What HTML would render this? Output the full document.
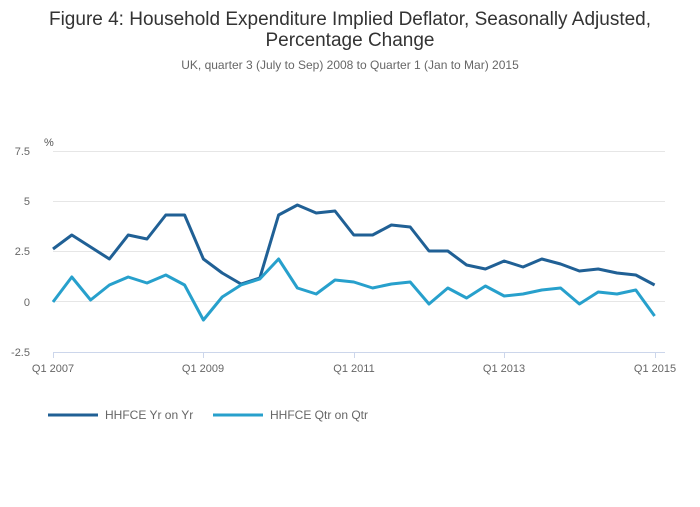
<!DOCTYPE html>
<html><head><meta charset="utf-8"><style>
body{margin:0;background:#fff;font-family:"Liberation Sans",sans-serif}
</style></head><body>
<svg width="700" height="502" xmlns="http://www.w3.org/2000/svg" font-family="Liberation Sans, sans-serif">
<rect width="700" height="502" fill="#fff"/>
<text x="350" y="25" text-anchor="middle" font-size="19" fill="#333">Figure 4: Household Expenditure Implied Deflator, Seasonally Adjusted,</text>
<text x="350" y="46" text-anchor="middle" font-size="19" fill="#333">Percentage Change</text>
<text x="350" y="69" text-anchor="middle" font-size="12" fill="#666">UK, quarter 3 (July to Sep) 2008 to Quarter 1 (Jan to Mar) 2015</text>
<text x="44" y="146" font-size="11" fill="#555">%</text>
<g stroke="#e6e6e6" stroke-width="1">
<line x1="53" x2="665" y1="151.5" y2="151.5"/><line x1="53" x2="665" y1="201.5" y2="201.5"/>
<line x1="53" x2="665" y1="251.5" y2="251.5"/><line x1="53" x2="665" y1="301.5" y2="301.5"/>
</g>
<line x1="53" x2="665" y1="352.5" y2="352.5" stroke="#ccd6eb"/>
<g font-size="11" fill="#666" text-anchor="end">
<text x="30" y="155">7.5</text><text x="30" y="205">5</text><text x="30" y="255">2.5</text><text x="30" y="306">0</text><text x="30" y="356">-2.5</text>
</g>
<g stroke="#ccd6eb"><line x1="53.5" x2="53.5" y1="352" y2="358"/><line x1="203.5" x2="203.5" y1="352" y2="358"/><line x1="354.5" x2="354.5" y1="352" y2="358"/><line x1="504.5" x2="504.5" y1="352" y2="358"/><line x1="655.5" x2="655.5" y1="352" y2="358"/></g>
<g font-size="11" fill="#666" text-anchor="middle">
<text x="53" y="372">Q1 2007</text><text x="203" y="372">Q1 2009</text><text x="354" y="372">Q1 2011</text><text x="504" y="372">Q1 2013</text><text x="655" y="372">Q1 2015</text>
</g>
<polyline id="d" fill="none" stroke="#206095" stroke-width="3" stroke-linejoin="round" points=""/>
<polyline id="l" fill="none" stroke="#27a0cc" stroke-width="3" stroke-linejoin="round" points=""/>
<line x1="48" x2="98" y1="415" y2="415" stroke="#206095" stroke-width="3"/>
<text x="105" y="419" font-size="12" fill="#666">HHFCE Yr on Yr</text>
<line x1="213" x2="263" y1="415" y2="415" stroke="#27a0cc" stroke-width="3"/>
<text x="270" y="419" font-size="12" fill="#666">HHFCE Qtr on Qtr</text>
</svg>
<script>
var d=[249,235,247,259,235,239,215,215,259,273,284,278,215,205,213,211,235,235,225,227,251,251,265,269,261,267,259,264,271,269,273,275,285];
var l=[302,277,300,285,277,283,275,285,320,297,285,279,259,288,294,280,282,288,284,282,304,288,298,286,296,294,290,288,304,292,294,290,316];
function p(a){return a.map(function(y,i){return (53+i*18.8).toFixed(1)+","+y}).join(" ")}
document.getElementById("d").setAttribute("points",p(d));
document.getElementById("l").setAttribute("points",p(l));
</script>
</body></html>
